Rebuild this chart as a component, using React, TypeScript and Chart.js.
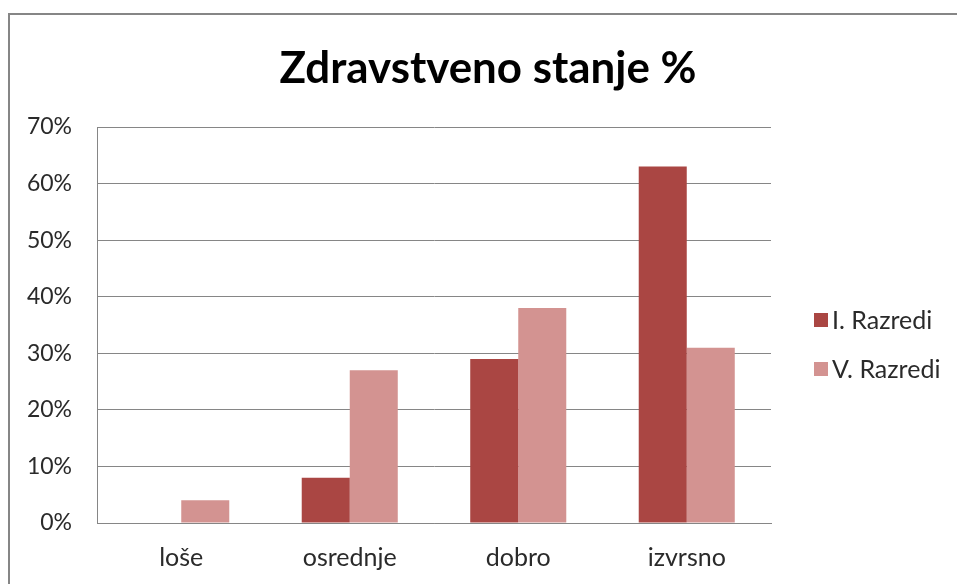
import React, { useEffect, useRef } from "react";
import { Chart, registerables } from "chart.js";

Chart.register(...registerables);

const categories = ["loše", "osrednje", "dobro", "izvrsno"];
const seriesNames = ["I. Razredi", "V. Razredi"];
const seriesI = [0, 8, 29, 63];
const seriesV = [4, 27, 38, 31];
const yTicksMax = 70;
const yStep = 10;
const titleText = "Zdravstveno stanje %";

const FONT = "Lato, 'Open Sans', sans-serif";
const GRID = "#868686";
const TEXT = "#2a2a2a";

export default function App() {
  const ref = useRef<HTMLCanvasElement | null>(null);

  useEffect(() => {
    const canvas = ref.current;
    if (!canvas) return;
    document.body.style.overflow = "hidden";

    const decor = {
      id: "decor",
      afterDraw(chart: any) {
        const ctx = chart.ctx as CanvasRenderingContext2D;
        ctx.save();
        // outer border
        ctx.fillStyle = GRID;
        ctx.fillRect(8, 13, 957, 2);
        ctx.fillRect(8, 13, 2, 584);
        // title
        ctx.fillStyle = "#000";
        ctx.font = `bold 44px ${FONT}`;
        const w = ctx.measureText(titleText).width;
        const size = 44 * (417 / w);
        ctx.font = `bold ${size}px ${FONT}`;
        ctx.textAlign = "center";
        ctx.textBaseline = "alphabetic";
        ctx.fillText(titleText, 488, 83);
        // legend
        const ys = [320, 369];
        chart.data.datasets.forEach((ds: any, i: number) => {
          ctx.fillStyle = ds.backgroundColor;
          ctx.fillRect(814, ys[i] - 7, 14, 14);
          ctx.fillStyle = TEXT;
          ctx.font = `25px ${FONT}`;
          ctx.textAlign = "left";
          ctx.textBaseline = "middle";
          ctx.fillText(ds.label, 832, ys[i] + 1);
        });
        ctx.restore();
      },
    };

    const chart = new Chart(canvas, {
      type: "bar",
      data: {
        labels: categories,
        datasets: [
          { label: seriesNames[0], data: seriesI, backgroundColor: "#AA4643", borderWidth: 0 },
          { label: seriesNames[1], data: seriesV, backgroundColor: "#D39391", borderWidth: 0 },
        ],
      },
      options: {
        responsive: false,
        animation: false,
        devicePixelRatio: 1,
        layout: { padding: { top: 127, right: 186, bottom: 0, left: 0 } },
        plugins: {
          legend: { display: false },
          title: { display: false },
          tooltip: { enabled: false },
        },
        datasets: { bar: { categoryPercentage: 0.57, barPercentage: 1 } },
        scales: {
          x: {
            grid: { display: false },
            border: { display: true, color: GRID, width: 1 },
            ticks: { color: TEXT, font: { family: FONT, size: 25 }, padding: 12 },
            afterFit: (s: any) => {
              s.height = 61;
            },
          },
          y: {
            min: 0,
            max: yTicksMax,
            grid: { color: GRID, drawTicks: false },
            border: { display: true, color: GRID, width: 1 },
            ticks: {
              stepSize: yStep,
              color: TEXT,
              font: { family: FONT, size: 23 },
              padding: 25,
              callback: (v: any) => v + "%",
            },
            afterFit: (s: any) => {
              s.width = 97;
            },
          },
        },
      },
      plugins: [decor],
    });
    return () => chart.destroy();
  }, []);

  return (
    <canvas
      ref={ref}
      width={957}
      height={584}
      style={{ position: "fixed", left: 0, top: 0, width: 957, height: 584, background: "#fff" }}
    />
  );
}
